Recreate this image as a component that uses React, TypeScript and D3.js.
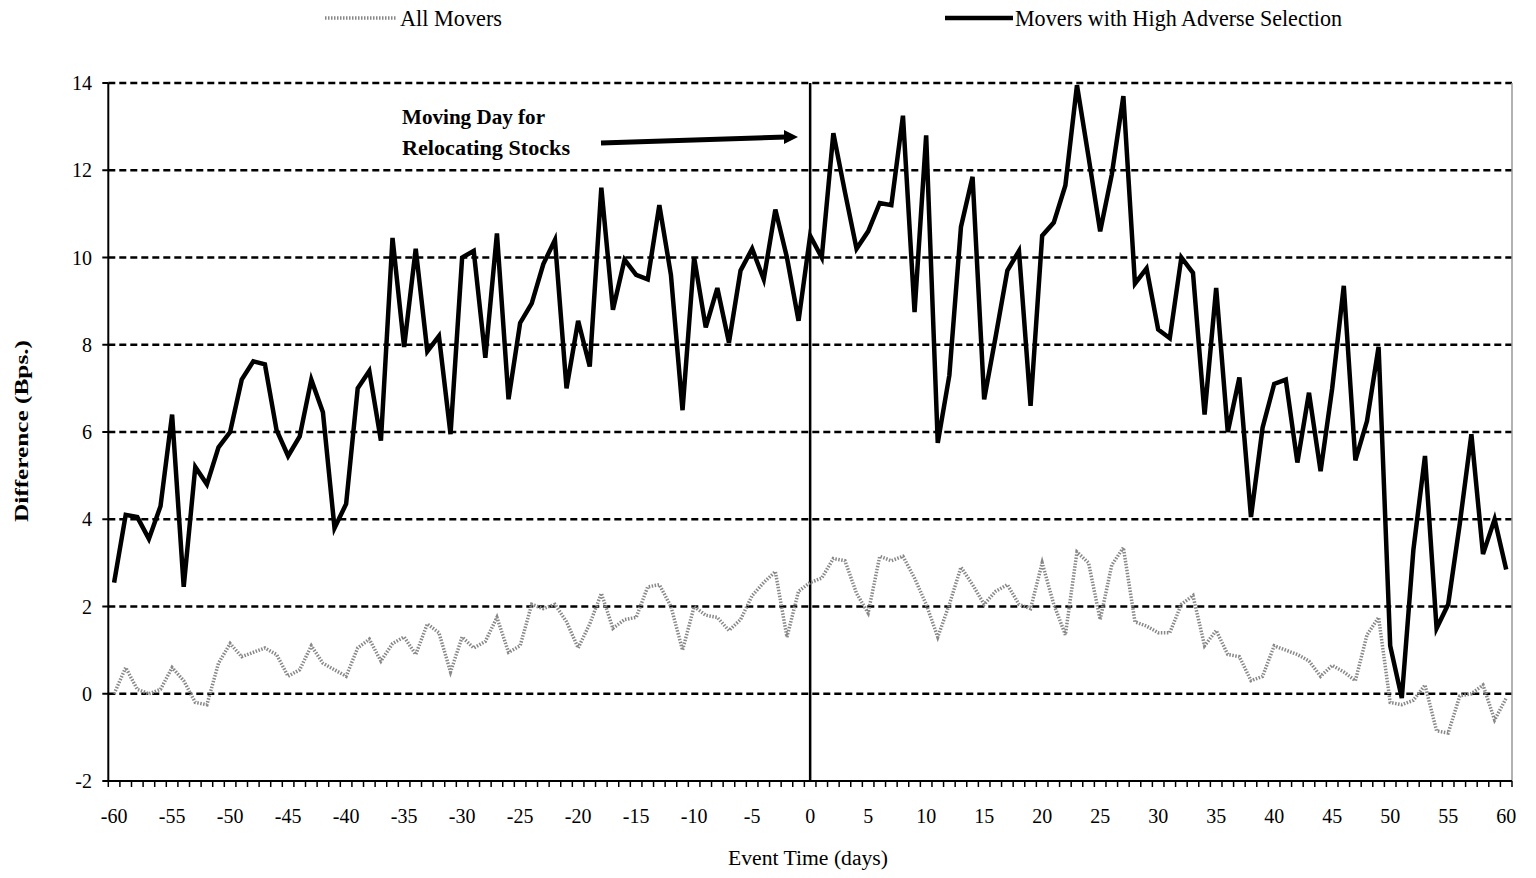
import React from 'react';
import * as d3 from 'd3';

// event days -60..60
const days: number[] = d3.range(-60, 61);

// Movers with High Adverse Selection (Bps.)
const highAdverse: number[] = [
  2.55, 4.1, 4.05, 3.55, 4.3, 6.4, 2.45, 5.2, 4.8, 5.65,
  6.0, 7.2, 7.62, 7.55, 6.05, 5.45, 5.9, 7.2, 6.45, 3.8,
  4.35, 7.0, 7.4, 5.8, 10.45, 7.95, 10.2, 7.85, 8.2, 5.95,
  10.0, 10.15, 7.7, 10.55, 6.75, 8.5, 8.95, 9.85, 10.4, 7.0,
  8.55, 7.5, 11.6, 8.8, 9.95, 9.6, 9.5, 11.2, 9.6, 6.5,
  10.0, 8.4, 9.3, 8.05, 9.7, 10.2, 9.5, 11.1, 10.0, 8.55,
  10.5,
  10.0, 12.85, 11.5, 10.2, 10.6, 11.25, 11.2, 13.25, 8.75, 12.8,
  5.75, 7.3, 10.7, 11.85, 6.75, 8.2, 9.7, 10.15, 6.6, 10.5,
  10.8, 11.65, 13.95, 12.3, 10.6, 11.9, 13.7, 9.4, 9.75, 8.35,
  8.15, 10.0, 9.65, 6.4, 9.3, 6.0, 7.25, 4.05, 6.1, 7.1,
  7.2, 5.3, 6.9, 5.1, 7.0, 9.35, 5.35, 6.25, 7.95, 1.1,
  -0.1, 3.3, 5.45, 1.5, 2.05, 3.9, 5.95, 3.2, 4.0, 2.85,
];

// All Movers (Bps.)
const allMovers: number[] = [
  0.0, 0.6, 0.1, 0.0, 0.1, 0.6, 0.3, -0.2, -0.25, 0.7,
  1.15, 0.85, 0.95, 1.05, 0.9, 0.4, 0.55, 1.1, 0.7, 0.55,
  0.4, 1.05, 1.25, 0.75, 1.15, 1.3, 0.9, 1.6, 1.4, 0.5,
  1.3, 1.05, 1.2, 1.75, 0.95, 1.1, 2.05, 1.95, 2.05, 1.65,
  1.05, 1.6, 2.3, 1.5, 1.7, 1.75, 2.45, 2.5, 2.0, 1.0,
  2.0, 1.8, 1.75, 1.45, 1.7, 2.25, 2.55, 2.8, 1.3, 2.35,
  2.55,
  2.65, 3.1, 3.05, 2.3, 1.85, 3.15, 3.05, 3.15, 2.65, 2.05,
  1.3, 2.05, 2.9, 2.5, 2.05, 2.35, 2.5, 2.05, 1.95, 3.0,
  2.05, 1.35, 3.25, 3.0, 1.7, 2.95, 3.35, 1.65, 1.55, 1.4,
  1.4, 2.05, 2.25, 1.1, 1.45, 0.9, 0.85, 0.3, 0.4, 1.1,
  1.0, 0.9, 0.75, 0.4, 0.65, 0.5, 0.3, 1.35, 1.75, -0.2,
  -0.25, -0.15, 0.2, -0.85, -0.9, -0.05, 0.0, 0.2, -0.6, -0.1,
];

const yTicks: number[] = [-2, 0, 2, 4, 6, 8, 10, 12, 14];
const gridValues: number[] = [0, 2, 4, 6, 8, 10, 12, 14];
const xTickLabels: number[] = d3.range(-60, 61, 5);

const W = 1536;
const H = 878;
const plot = { left: 108.3, right: 1512, top: 83, bottom: 781 };
const serif = '"Liberation Serif", "Times New Roman", serif';

export default function App() {
  // categories are centred between tick marks, like the spreadsheet chart
  const x = d3.scaleLinear().domain([-60.5, 60.5]).range([plot.left, plot.right]);
  const y = d3.scaleLinear().domain([-2, 14]).range([plot.bottom, plot.top]);

  const line = d3.line<number>()
    .x((_, i) => x(days[i]))
    .y(d => y(d));

  const minorTicks = d3.range(-60.5, 61.5, 1);

  return (
    <svg width={W} height={H} style={{ position: 'absolute', left: 0, top: 0, background: '#fff' }}
      fontFamily={serif}>
      {/* legend */}
      <line x1={325} x2={396} y1={18} y2={18} stroke="#888" strokeWidth={3.5} strokeDasharray="1.5,1.5" />
      <text x={400} y={26} fontSize={23} textLength={102} lengthAdjust="spacingAndGlyphs">All Movers</text>
      <line x1={945} x2={1013} y1={18} y2={18} stroke="#000" strokeWidth={4.5} />
      <text x={1015} y={26} fontSize={23} textLength={327} lengthAdjust="spacingAndGlyphs">
        Movers with High Adverse Selection
      </text>

      {/* gridlines */}
      {gridValues.map(v => (
        <line key={v} x1={plot.left} x2={plot.right} y1={y(v)} y2={y(v)}
          stroke="#000" strokeWidth={2.5} strokeDasharray="7,4" />
      ))}

      {/* right border */}
      <line x1={plot.right} x2={plot.right} y1={plot.top} y2={plot.bottom} stroke="#999" strokeWidth={1.5} />

      {/* axes */}
      <line x1={plot.left} x2={plot.left} y1={plot.top} y2={plot.bottom} stroke="#000" strokeWidth={2} />
      <line x1={plot.left} x2={plot.right} y1={plot.bottom} y2={plot.bottom} stroke="#000" strokeWidth={2} />
      {yTicks.map(v => (
        <g key={v}>
          <line x1={plot.left - 6} x2={plot.left} y1={y(v)} y2={y(v)} stroke="#000" strokeWidth={2} />
          <text x={92} y={y(v)} dy="0.35em" fontSize={20} textAnchor="end">{v}</text>
        </g>
      ))}
      {minorTicks.map(t => (
        <line key={t} x1={x(t)} x2={x(t)} y1={plot.bottom} y2={plot.bottom + 6} stroke="#000" strokeWidth={1.5} />
      ))}
      {xTickLabels.map(d => (
        <text key={d} x={x(d)} y={816} dy="0.35em" fontSize={20} textAnchor="middle">{d}</text>
      ))}

      {/* axis titles */}
      <text x={808} y={865} fontSize={20} textAnchor="middle" textLength={160} lengthAdjust="spacingAndGlyphs">
        Event Time (days)
      </text>
      <text transform="translate(28,431) rotate(-90)" fontSize={19} fontWeight="bold" textAnchor="middle"
        textLength={182} lengthAdjust="spacingAndGlyphs">
        Difference (Bps.)
      </text>

      {/* moving day marker */}
      <line x1={x(0)} x2={x(0)} y1={plot.top} y2={plot.bottom} stroke="#000" strokeWidth={2.5} />

      {/* series */}
      <path d={line(allMovers) ?? ''} fill="none" stroke="#888" strokeWidth={3.5} strokeDasharray="1.5,1.5" />
      <path d={line(highAdverse) ?? ''} fill="none" stroke="#000" strokeWidth={4.5} strokeLinejoin="miter" />

      {/* annotation */}
      <text x={402} y={124} fontSize={22} fontWeight="bold" textLength={143} lengthAdjust="spacingAndGlyphs">
        Moving Day for
      </text>
      <text x={402} y={155} fontSize={22} fontWeight="bold" textLength={168} lengthAdjust="spacingAndGlyphs">
        Relocating Stocks
      </text>
      <line x1={601} x2={786} y1={143} y2={137} stroke="#000" strokeWidth={5} />
      <path d="M784,130 L798,137 L784,144 Z" fill="#000" />
    </svg>
  );
}
